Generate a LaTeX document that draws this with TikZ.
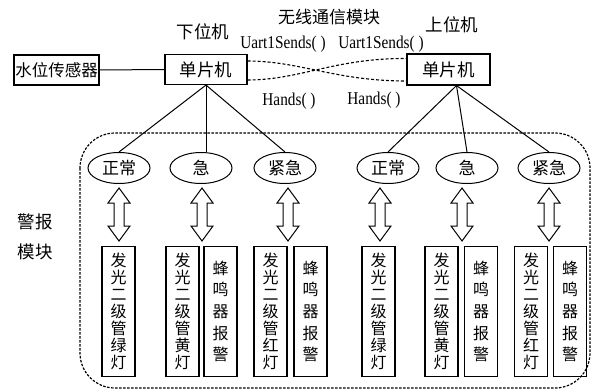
\documentclass[tikz,border=0pt]{standalone}
\usepackage{fontspec}
\setmainfont{Liberation Serif}
\newfontfamily\cjk{Noto Sans CJK SC}
\newfontfamily\latc[FakeStretch=0.85]{Liberation Serif}
\usetikzlibrary{shapes.geometric,calc}
\newcommand\dblarr[3]{%
  \draw[hollowarr] (#1,#2) -- (#1+11,#2+15) -- (#1+5,#2+15) -- (#1+5,#3-15) -- (#1+11,#3-15)
    -- (#1,#3) -- (#1-11,#3-15) -- (#1-5,#3-15) -- (#1-5,#2+15) -- (#1-11,#2+15) -- cycle;}
\tikzset{
  box/.style={draw, line width=1.1pt, inner sep=0pt, font=\cjk\fontsize{17.5}{19}\selectfont},
  lbl/.style={inner sep=0pt, font=\cjk\fontsize{17.5}{19}\selectfont},
  fn/.style={inner sep=0pt, font=\latc\fontsize{18}{20}\selectfont},
  oval/.style={draw, ellipse, line width=1pt, inner sep=0pt, minimum width=62pt, minimum height=31pt, font=\cjk\fontsize{17}{19}\selectfont},
  vbox/.style={draw, line width=1.1pt, inner sep=0pt, minimum width=33pt, minimum height=130pt, align=center},
  led/.style={vbox, font=\cjk\fontsize{16}{17}\selectfont},
  buzz/.style={vbox, font=\cjk\fontsize{16}{21.7}\selectfont},
  link/.style={line width=1pt},
  wireless/.style={line width=1.1pt, dash pattern=on 3pt off 2pt},
  region/.style={line width=1.2pt, dash pattern=on 2.5pt off 1.5pt, rounded corners=35pt},
  hollowarr/.style={line width=1pt, fill=white, line join=miter}
}
\begin{document}
\begin{tikzpicture}[x=1pt,y=-1pt]
\useasboundingbox (0,0) rectangle (601,391);
\draw[region] (80,133) rectangle (590,388);

% top row
\node[box, minimum width=85pt, minimum height=30pt, font=\cjk\fontsize{16.5}{18}\selectfont] (sensor) at (56.5,70) {水位传感器};
\node[box, minimum width=82pt, minimum height=30pt] (mcuL) at (206,69.5) {单片机};
\node[box, minimum width=83pt, minimum height=31pt] (mcuR) at (448.5,69.5) {单片机};
\draw[link] (sensor) -- (mcuL);

\node[lbl] (lower) at (203,32) {下位机};
\node[lbl] (upper) at (452,25) {上位机};
\node[lbl, font=\cjk\fontsize{17}{19}\selectfont] (wl) at (329,17) {无线通信模块};
\node[fn] (u1) at (283,44) {Uart1Sends( )};
\node[fn] (u2) at (381,44) {Uart1Sends( )};
\node[fn] (h1) at (289,101) {Hands( )};
\node[fn] (h2) at (374,100) {Hands( )};

\draw[wireless] ([yshift=8.5pt]mcuL.east) .. controls (300,61) and (335,81) .. ([yshift=-11.5pt]mcuR.west);
\draw[wireless] ([yshift=-10.5pt]mcuL.east) .. controls (300,80) and (335,58) .. ([yshift=11pt]mcuR.west);

% ellipses
\node[oval] (e1) at (119,168) {正常};
\node[oval] (e2) at (201,168) {急};
\node[oval] (e3) at (285,168) {紧急};
\node[oval] (e4) at (388,168) {正常};
\node[oval] (e5) at (467,168) {急};
\node[oval] (e6) at (549,168) {紧急};

\coordinate (apL) at (mcuL.south);
\coordinate (apR) at ($(mcuR.south)+(8,0)$);
\draw[link] (apL) -- (e1.north);
\draw[link] (apL) -- (apL |- e2.north);
\draw[link] (apL) -- (e3.north);
\draw[link] (apR) -- (e4.north);
\draw[link] (apR) -- (e5.north);
\draw[link] (apR) -- (e6.north);

% double arrows
\dblarr{119}{188}{241}
\dblarr{202}{188}{241}
\dblarr{288}{188}{241}
\dblarr{380}{188}{241}
\dblarr{462}{188}{241}
\dblarr{549}{188}{241}

% device boxes
\node[led] (b1) at (118.5,311.5) {发\\光\\二\\级\\管\\绿\\灯};
\node[led] (b2) at (182.5,311.5) {发\\光\\二\\级\\管\\黄\\灯};
\node[buzz] (b3) at (220.5,311.5) {蜂\\鸣\\器\\报\\警};
\node[led] (b4) at (270.5,311.5) {发\\光\\二\\级\\管\\红\\灯};
\node[buzz] (b5) at (310.5,311.5) {蜂\\鸣\\器\\报\\警};
\node[led] (b6) at (378.5,311.5) {发\\光\\二\\级\\管\\绿\\灯};
\node[led] (b7) at (441.5,311.5) {发\\光\\二\\级\\管\\黄\\灯};
\node[buzz] (b8) at (481,311.5) {蜂\\鸣\\器\\报\\警};
\node[led] (b9) at (531,311.5) {发\\光\\二\\级\\管\\红\\灯};
\node[buzz] (b10) at (570,311.5) {蜂\\鸣\\器\\报\\警};

\node[lbl] (al1) at (35,222) {警报};
\node[lbl] (al2) at (35,252) {模块};
\end{tikzpicture}
\end{document}
